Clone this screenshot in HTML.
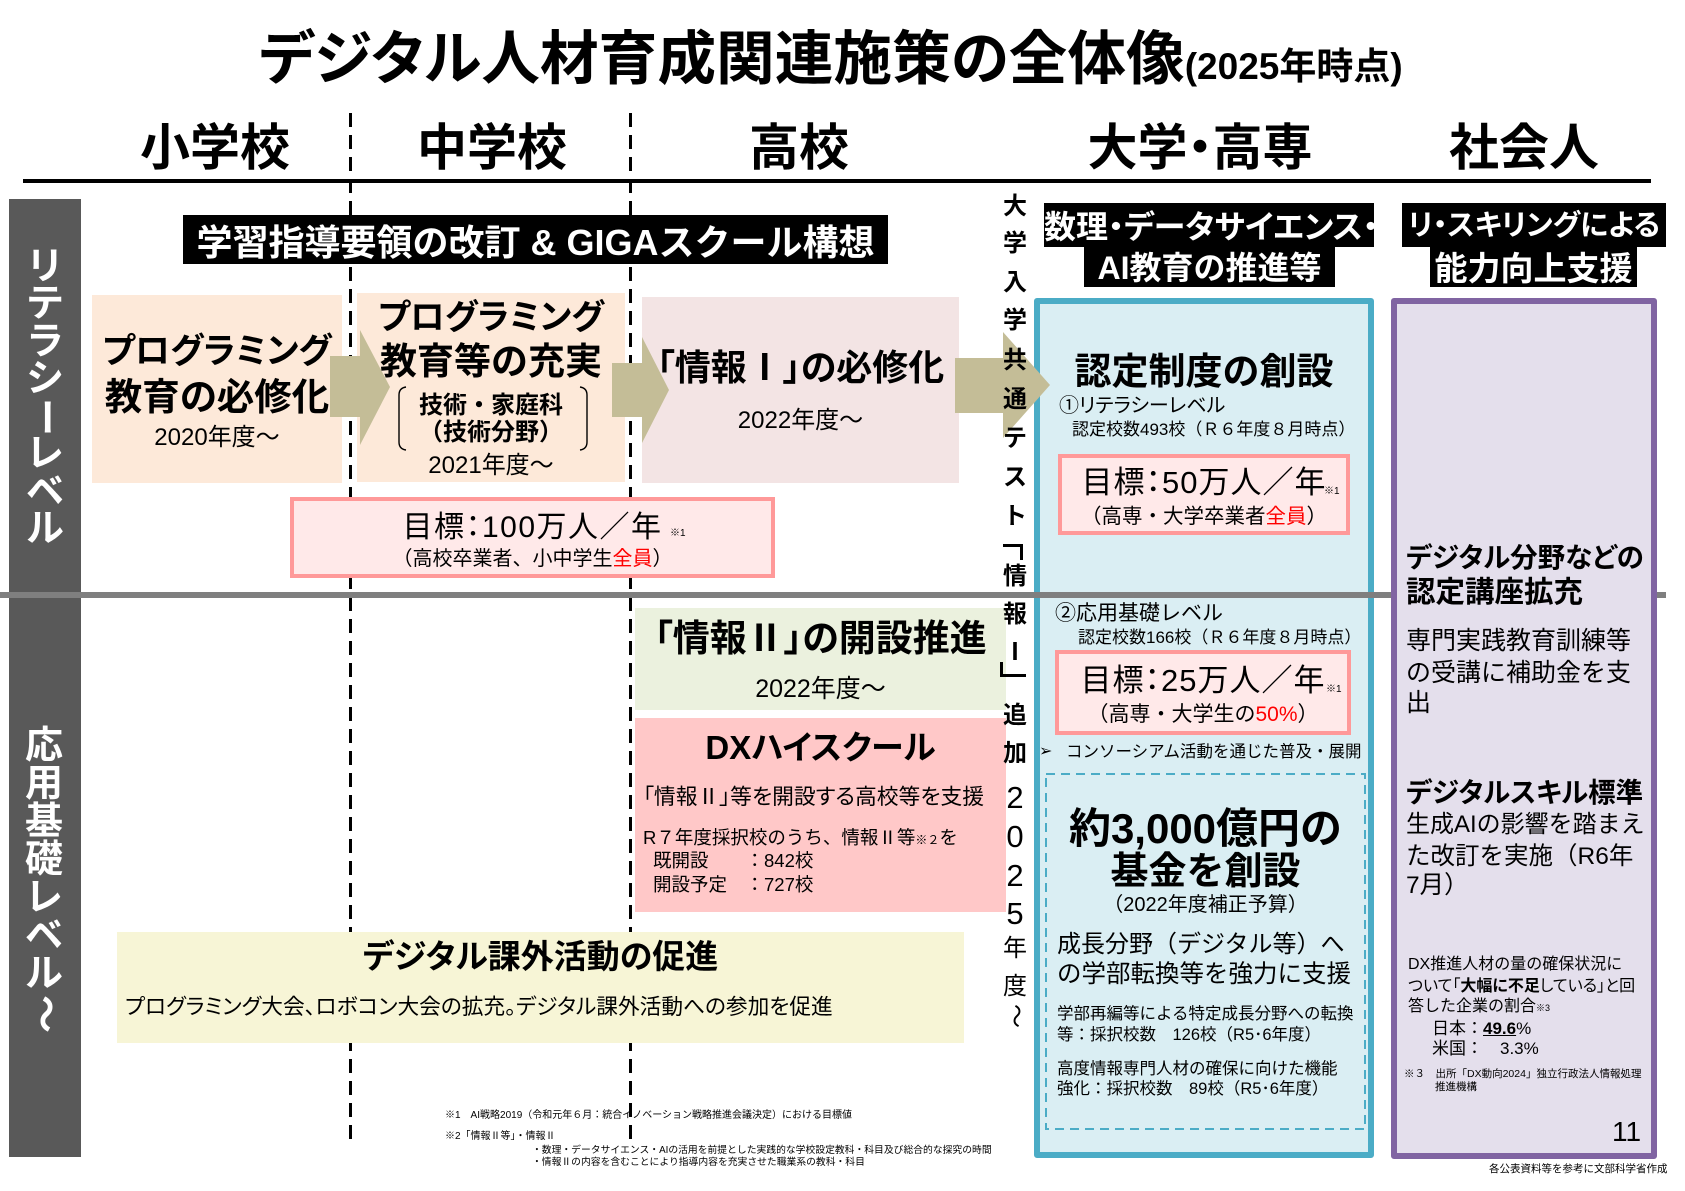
<!DOCTYPE html>
<html><head><meta charset="utf-8">
<style>
*{margin:0;padding:0;box-sizing:border-box}
body{width:1685px;height:1191px;position:relative;overflow:hidden;background:#fff;font-family:"Liberation Sans","Noto Sans CJK JP",sans-serif;color:#000}
.a{position:absolute}
.t{position:absolute;white-space:nowrap;line-height:1}
.c{text-align:center}
.b{font-weight:700}
.p{font-feature-settings:"palt"}
.r{color:#FF0000}
.w{color:#fff}
.v{position:absolute;width:50px;text-align:center;line-height:1;white-space:nowrap}
.rot{transform:rotate(90deg)}
.dl{position:absolute;width:3px;background:repeating-linear-gradient(to bottom,#000 0 14px,transparent 14px 22px)}
</style></head><body>

<!-- dashed vertical lines -->
<div class="dl" style="left:349px;top:113px;height:1034px"></div>
<div class="dl" style="left:629px;top:113px;height:1034px"></div>

<!-- left gray bars -->
<div class="a" style="left:9px;top:199px;width:72px;height:393px;background:#595959"></div>
<div class="a" style="left:9px;top:598px;width:72px;height:559px;background:#595959"></div>

<!-- row boxes -->
<div class="a" style="left:92px;top:295px;width:250px;height:188px;background:#FDE9D9"></div>
<div class="a" style="left:357px;top:293px;width:268px;height:189px;background:#FDE9D9"></div>
<div class="a" style="left:642px;top:297px;width:317px;height:186px;background:#F3E4E4"></div>
<div class="a" style="left:290px;top:497px;width:485px;height:81px;background:#FFE9E9;border:4px solid #FF9999"></div>
<div class="a" style="left:635px;top:608px;width:371px;height:102px;background:#EBF1DE"></div>
<div class="a" style="left:635px;top:718px;width:371px;height:194px;background:#FFC8C8"></div>
<div class="a" style="left:117px;top:932px;width:847px;height:111px;background:#F7F5D6"></div>

<!-- teal box -->
<div class="a" style="left:1034px;top:298px;width:340px;height:860px;background:#DAEEF3;border:6px solid #4BACC6;border-radius:3px"></div>
<div class="a" style="left:1058px;top:454px;width:292px;height:81px;background:#FFE9E9;border:4px solid #FF9999"></div>
<div class="a" style="left:1055px;top:650px;width:296px;height:85px;background:#FFE9E9;border:4px solid #FF9999"></div>

<!-- separator -->
<div class="a" style="left:0;top:592px;width:1666px;height:6px;background:#7F7F7F"></div>

<!-- purple box -->
<div class="a" style="left:1391px;top:298px;width:266px;height:861px;background:#E4DFEC;border:6px solid #8064A2;border-radius:3px"></div>

<!-- svg shapes -->
<svg class="a" style="left:0;top:0" width="1685" height="1191" viewBox="0 0 1685 1191">
<polygon points="330,356 360,356 360,330 390,387 360,445 360,417 330,417" fill="#C4BD97"/>
<polygon points="612,363 642,363 642,337 669,390 642,443 642,417 612,417" fill="#C4BD97"/>
<polygon points="955,358 1003,358 1003,332 1050,385 1003,438 1003,413 955,413" fill="#C4BD97"/>
<path d="M406,387 Q399,388 399,395 L399,442 Q399,449 406,450" stroke="#000" stroke-width="1.4" fill="none"/>
<path d="M580,387 Q587,388 587,395 L587,442 Q587,449 580,450" stroke="#000" stroke-width="1.4" fill="none"/>
<rect x="1046" y="774" width="319" height="355" fill="none" stroke="#4BACC6" stroke-width="2" stroke-dasharray="9 6"/>
</svg>

<!-- black header line -->
<div class="a" style="left:23px;top:179px;width:1628px;height:4px;background:#000"></div>

<!-- banners -->
<div class="a" style="left:183px;top:215px;width:705px;height:49px;background:#000"></div>
<div class="a" style="left:1044px;top:203px;width:330px;height:44px;background:#000"></div>
<div class="a" style="left:1084px;top:247px;width:251px;height:40px;background:#000"></div>
<div class="a" style="left:1402px;top:203px;width:264px;height:44px;background:#000"></div>
<div class="a" style="left:1430px;top:247px;width:207px;height:40px;background:#000"></div>

<!-- title -->
<div class="t b p" style="left:259px;top:31px;font-size:58.7px">デジタル人材育成関連施策の全体像<span style="font-size:37px">(2025年時点)</span></div>

<!-- column headers -->
<div class="t b c" style="left:140px;width:150px;top:123px;font-size:50px">小学校</div>
<div class="t b c" style="left:417px;width:150px;top:123px;font-size:50px">中学校</div>
<div class="t b c" style="left:749px;width:100px;top:123px;font-size:50px">高校</div>
<div class="t b c p" style="left:1077px;width:246px;top:123px;font-size:50px">大学・高専</div>
<div class="t b c" style="left:1449px;width:150px;top:123px;font-size:50px">社会人</div>

<!-- banner texts -->
<div class="t b c w" style="left:183px;width:705px;top:225px;font-size:36px">学習指導要領の改訂 &amp; GIGAスクール構想</div>
<div class="t b c w p" style="left:1044px;width:330px;top:211px;font-size:32px">数理・データサイエンス・</div>
<div class="t b c w" style="left:1084px;width:251px;top:252px;font-size:32px">AI教育の推進等</div>
<div class="t b c w p" style="left:1402px;width:264px;top:212px;font-size:29px">リ・スキリングによる</div>
<div class="t b c w" style="left:1430px;width:207px;top:252px;font-size:33px">能力向上支援</div>

<!-- box A -->
<div class="t b c p" style="left:92px;width:250px;top:334px;font-size:35px">プログラミング</div>
<div class="t b c p" style="left:92px;width:250px;top:379px;font-size:37.5px">教育の必修化</div>
<div class="t c" style="left:92px;width:250px;top:426px;font-size:24px">2020年度～</div>

<!-- box B -->
<div class="t b c p" style="left:357px;width:268px;top:301px;font-size:34.5px">プログラミング</div>
<div class="t b c" style="left:357px;width:268px;top:343px;font-size:37px">教育等の充実</div>
<div class="t b c" style="left:357px;width:268px;top:394px;font-size:24px">技術・家庭科</div>
<div class="t b c" style="left:357px;width:268px;top:421px;font-size:24px">（技術分野）</div>
<div class="t c" style="left:357px;width:268px;top:454px;font-size:24px">2021年度～</div>

<!-- box C -->
<div class="t b c p" style="left:642px;width:317px;top:350px;font-size:36px">「情報Ⅰ」の必修化</div>
<div class="t c" style="left:642px;width:317px;top:409px;font-size:24px">2022年度～</div>

<!-- target 1 -->
<div class="t c p" style="left:290px;width:485px;top:513px;font-size:30px;letter-spacing:1.5px">目標：100万人／年</div>
<div class="t" style="left:670px;top:529px;font-size:10px">※1</div>
<div class="t c" style="left:290px;width:485px;top:549px;font-size:20px">（高校卒業者、小中学生<span class="r">全員</span>）</div>

<!-- teal texts -->
<div class="t b c" style="left:1034px;width:340px;top:353px;font-size:37px">認定制度の創設</div>
<div class="t p" style="left:1059px;top:396px;font-size:20px">①リテラシーレベル</div>
<div class="t" style="left:1072px;top:421px;font-size:17px">認定校数493校（Ｒ６年度８月時点）</div>
<div class="t c p" style="left:1058px;width:292px;top:467px;font-size:31px;letter-spacing:1px">目標：50万人／年</div>
<div class="t" style="left:1324px;top:487px;font-size:10px">※1</div>
<div class="t c" style="left:1058px;width:292px;top:507px;font-size:20.5px">（高専・大学卒業者<span class="r">全員</span>）</div>
<div class="t" style="left:1055px;top:603px;font-size:21px">②応用基礎レベル</div>
<div class="t" style="left:1078px;top:629px;font-size:17px">認定校数166校（Ｒ６年度８月時点）</div>
<div class="t c p" style="left:1055px;width:296px;top:665px;font-size:31px;letter-spacing:1px">目標：25万人／年</div>
<div class="t" style="left:1326px;top:685px;font-size:10px">※1</div>
<div class="t c" style="left:1055px;width:296px;top:704px;font-size:21px">（高専・大学生の<span class="r">50%</span>）</div>
<div class="t" style="left:1039px;top:744px;font-size:16px">➢</div>
<div class="t" style="left:1066px;top:744px;font-size:16.5px">コンソーシアム活動を通じた普及・展開</div>
<div class="t b c" style="left:1045px;width:321px;top:808px;font-size:42px">約3,000億円の</div>
<div class="t b c" style="left:1045px;width:321px;top:853px;font-size:38px">基金を創設</div>
<div class="t c" style="left:1045px;width:321px;top:895px;font-size:20px">（2022年度補正予算）</div>
<div class="t" style="left:1057px;top:933px;font-size:24px">成長分野（デジタル等）へ</div>
<div class="t" style="left:1057px;top:963px;font-size:24.5px">の学部転換等を強力に支援</div>
<div class="t" style="left:1057px;top:1006px;font-size:16.5px">学部再編等による特定成長分野への転換</div>
<div class="t" style="left:1057px;top:1027px;font-size:16.5px">等：採択校数　126校（R5･6年度）</div>
<div class="t" style="left:1057px;top:1061px;font-size:16.5px">高度情報専門人材の確保に向けた機能</div>
<div class="t" style="left:1057px;top:1081px;font-size:16.5px">強化：採択校数　89校（R5･6年度）</div>

<!-- purple texts -->
<div class="t b p" style="left:1406px;top:544px;font-size:27.5px">デジタル分野などの</div>
<div class="t b" style="left:1406px;top:578px;font-size:29.5px">認定講座拡充</div>
<div class="t" style="left:1406px;top:629px;font-size:25px">専門実践教育訓練等</div>
<div class="t" style="left:1406px;top:661px;font-size:25px">の受講に補助金を支</div>
<div class="t" style="left:1406px;top:691px;font-size:25px">出</div>
<div class="t b p" style="left:1406px;top:779px;font-size:27.5px">デジタルスキル標準</div>
<div class="t" style="left:1406px;top:813px;font-size:24px">生成AIの影響を踏まえ</div>
<div class="t" style="left:1406px;top:845px;font-size:24.5px">た改訂を実施（R6年</div>
<div class="t" style="left:1406px;top:874px;font-size:24.5px">7月）</div>
<div class="t" style="left:1408px;top:957px;font-size:16px">DX推進人材の量の確保状況に</div>
<div class="t p" style="left:1408px;top:979px;font-size:16px">ついて「<b>大幅に不足</b>している」と回</div>
<div class="t" style="left:1408px;top:999px;font-size:16px">答した企業の割合<span style="font-size:9px">※3</span></div>
<div class="t" style="left:1432px;top:1020px;font-size:17px">日本：<b><u>49.6</u></b>%</div>
<div class="t" style="left:1432px;top:1040px;font-size:17px">米国：　3.3%</div>
<div class="t" style="left:1404px;top:1069px;font-size:10.5px">※３　出所「DX動向2024」独立行政法人情報処理</div>
<div class="t" style="left:1435px;top:1082px;font-size:10.5px">推進機構</div>
<div class="t" style="left:1612px;top:1118px;font-size:28px">11</div>
<div class="t" style="left:1489px;top:1164px;font-size:10.5px">各公表資料等を参考に文部科学省作成</div>

<!-- middle left -->
<div class="t b c p" style="left:635px;width:371px;top:620px;font-size:37px">「情報Ⅱ」の開設推進</div>
<div class="t c" style="left:635px;width:371px;top:677px;font-size:25px">2022年度～</div>
<div class="t b c p" style="left:635px;width:371px;top:731px;font-size:33px">DXハイスクール</div>
<div class="t p" style="left:643px;top:786px;font-size:21.8px">「情報Ⅱ」等を開設する高校等を支援</div>
<div class="t" style="left:643px;top:829px;font-size:18.5px">R７年度採択校のうち、情報Ⅱ等<span style="font-size:12px">※２</span>を</div>
<div class="t" style="left:653px;top:852px;font-size:18.5px">既開設　　：842校</div>
<div class="t" style="left:653px;top:876px;font-size:18.5px">開設予定　：727校</div>

<!-- cream box -->
<div class="t b c p" style="left:117px;width:847px;top:940px;font-size:33px">デジタル課外活動の促進</div>
<div class="t p" style="left:125px;top:996px;font-size:21.7px">プログラミング大会、ロボコン大会の拡充。デジタル課外活動への参加を促進</div>

<!-- footnotes -->
<div class="t" style="left:445px;top:1111px;font-size:10px">※1　AI戦略2019（令和元年６月：統合イノベーション戦略推進会議決定）における目標値</div>
<div class="t" style="left:445px;top:1132px;font-size:10px">※2「情報Ⅱ等」・情報Ⅱ</div>
<div class="t" style="left:532px;top:1146px;font-size:9.8px">・数理・データサイエンス・AIの活用を前提とした実践的な学校設定教科・科目及び総合的な探究の時間</div>
<div class="t" style="left:532px;top:1158px;font-size:9.8px">・情報Ⅱの内容を含むことにより指導内容を充実させた職業系の教科・科目</div>

<!-- vertical gray bar texts -->
<div class="v b w" style="left:20px;top:248px;font-size:38px">リ</div>
<div class="v b w" style="left:20px;top:285px;font-size:38px">テ</div>
<div class="v b w" style="left:20px;top:323px;font-size:38px">ラ</div>
<div class="v b w" style="left:20px;top:360px;font-size:38px">シ</div>
<div class="v b w rot" style="left:20px;top:398px;font-size:38px">ー</div>
<div class="v b w" style="left:20px;top:435px;font-size:38px">レ</div>
<div class="v b w" style="left:20px;top:473px;font-size:38px">ベ</div>
<div class="v b w" style="left:20px;top:510px;font-size:38px">ル</div>

<div class="v b w" style="left:19px;top:727px;font-size:38px">応</div>
<div class="v b w" style="left:19px;top:765px;font-size:38px">用</div>
<div class="v b w" style="left:19px;top:803px;font-size:38px">基</div>
<div class="v b w" style="left:19px;top:841px;font-size:38px">礎</div>
<div class="v b w" style="left:19px;top:879px;font-size:38px">レ</div>
<div class="v b w" style="left:19px;top:917px;font-size:38px">ベ</div>
<div class="v b w" style="left:19px;top:955px;font-size:38px">ル</div>
<div class="v b w rot" style="left:19px;top:995px;font-size:38px">～</div>

<!-- middle vertical column -->
<div class="v b" style="left:990px;top:195px;font-size:24px">大</div>
<div class="v b" style="left:990px;top:232px;font-size:24px">学</div>
<div class="v b" style="left:990px;top:271px;font-size:24px">入</div>
<div class="v b" style="left:990px;top:309px;font-size:24px">学</div>
<div class="v b" style="left:990px;top:349px;font-size:24px">共</div>
<div class="v b" style="left:990px;top:388px;font-size:24px">通</div>
<div class="v b" style="left:990px;top:427px;font-size:24px">テ</div>
<div class="v b" style="left:990px;top:466px;font-size:24px">ス</div>
<div class="v b" style="left:990px;top:505px;font-size:24px">ト</div>
<div class="a" style="left:1003px;top:544px;width:20px;height:16px;border-top:3px solid #000;border-right:3px solid #000"></div>
<div class="v b" style="left:990px;top:565px;font-size:24px">情</div>
<div class="v b" style="left:990px;top:603px;font-size:24px">報</div>
<div class="v b" style="left:990px;top:641px;font-size:24px">Ⅰ</div>
<div class="a" style="left:1000px;top:662px;width:26px;height:15px;border-left:3px solid #000;border-bottom:3px solid #000"></div>
<div class="v b" style="left:990px;top:704px;font-size:24px">追</div>
<div class="v b" style="left:990px;top:742px;font-size:24px">加</div>
<div class="v" style="left:990px;top:782px;font-size:31px">2</div>
<div class="v" style="left:990px;top:821px;font-size:31px">0</div>
<div class="v" style="left:990px;top:860px;font-size:31px">2</div>
<div class="v" style="left:990px;top:898px;font-size:31px">5</div>
<div class="v" style="left:990px;top:937px;font-size:24px">年</div>
<div class="v" style="left:990px;top:975px;font-size:24px">度</div>
<div class="v rot" style="left:990px;top:1004px;font-size:24px">～</div>

</body></html>
